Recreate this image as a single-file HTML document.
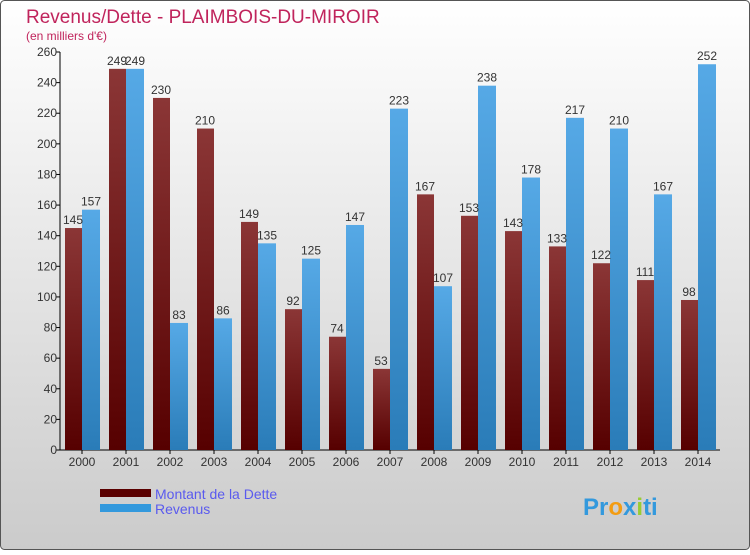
<!DOCTYPE html>
<html><head><meta charset="utf-8"><style>
body{margin:0;width:750px;height:550px;overflow:hidden}
svg text{font-family:"Liberation Sans",sans-serif}
</style></head><body>
<svg id="chart" width="750" height="550" xmlns="http://www.w3.org/2000/svg">
<defs>
<linearGradient id="bg" x1="0" y1="0" x2="0" y2="1"><stop offset="0" stop-color="#ffffff"/><stop offset="1" stop-color="#cbcbcb"/></linearGradient>
<linearGradient id="gr" x1="0" y1="0" x2="0" y2="1"><stop offset="0" stop-color="#8b3636"/><stop offset="1" stop-color="#560000"/></linearGradient>
<linearGradient id="gb" x1="0" y1="0" x2="0" y2="1"><stop offset="0" stop-color="#56a9e6"/><stop offset="1" stop-color="#2a7cb8"/></linearGradient>
</defs>
<rect x="0.5" y="0.5" width="749" height="549" rx="4" fill="url(#bg)" stroke="#555"/>
<text x="26" y="23" font-size="19" fill="#c0245c">Revenus/Dette - PLAIMBOIS-DU-MIROIR</text>
<text x="26" y="40" font-size="12" fill="#c0245c">(en milliers d'€)</text>
<g id="plot"></g>
<g>
<rect x="100" y="489" width="51" height="8" fill="#5a0000"/>
<text x="155" y="499" font-size="14" fill="#5a5aee">Montant de la Dette</text>
<rect x="100" y="504" width="51" height="8" fill="#3399dd"/>
<text x="155" y="514" font-size="14" fill="#5a5aee">Revenus</text>
</g>
<g font-size="24" font-weight="bold">
<text x="583" y="515"><tspan fill="#3399dd">Pr</tspan><tspan fill="#f39c12">o</tspan><tspan fill="#3399dd">x</tspan><tspan fill="#99cc33">i</tspan><tspan fill="#3399dd">ti</tspan></text>
</g>
</svg>
<script>
const years=["2000","2001","2002","2003","2004","2005","2006","2007","2008","2009","2010","2011","2012","2013","2014"];
const dette=[145,249,230,210,149,92,74,53,167,153,143,133,122,111,98];
const revenus=[157,249,83,86,135,125,147,223,107,238,178,217,210,167,252];
const yTicks=[0,20,40,60,80,100,120,140,160,180,200,220,240,260];
const NS="http://www.w3.org/2000/svg";
const g=document.getElementById('plot');
const y0=450,y1=52,vmax=260,xL=60,step=44;
const Y=v=>y0-(v/vmax)*(y0-y1);
const X=i=>82+i*step;
function mk(t,a,p){const e=document.createElementNS(NS,t);for(const k in a)e.setAttribute(k,a[k]);(p||g).appendChild(e);return e;}
const ax=mk('line',{x1:xL,y1:Y(vmax),x2:xL,y2:y0,stroke:'#000'});


const bx=mk('line',{x1:xL,y1:y0,x2:720,y2:y0,stroke:'#000'});


yTicks.forEach(v=>{
 const l=mk('line',{x1:xL-4,x2:xL,y1:Y(v),y2:Y(v),stroke:'#000'});
 
 
 const t=mk('text',{x:xL-3,y:Y(v)+4,'font-size':12,'text-anchor':'end',fill:'#333'});
 t.textContent=v;
 
 
});
years.forEach((yr,i)=>{
 const c=X(i);
 const t=mk('text',{x:c,y:y0+16,'font-size':12,'text-anchor':'middle',fill:'#333'});
 t.textContent=yr;
 
 
 const tk=mk('line',{x1:c,x2:c,y1:y0,y2:y0+4,stroke:'#000'});
 
 
 const r=mk('rect',{x:c-17,y:Y(dette[i]),width:17,height:y0-Y(dette[i]),fill:'url(#gr)'});
 
 
 const b=mk('rect',{x:c,y:Y(revenus[i]),width:18,height:y0-Y(revenus[i]),fill:'url(#gb)'});
 
 
 const lr=mk('text',{x:c-9,y:Y(dette[i])-4,'font-size':12,'text-anchor':'middle',fill:'#333'});
 lr.textContent=dette[i];
 
 
 const lb=mk('text',{x:c+9,y:Y(revenus[i])-4,'font-size':12,'text-anchor':'middle',fill:'#333'});
 lb.textContent=revenus[i];
 
 
});
</script>
</body></html>
